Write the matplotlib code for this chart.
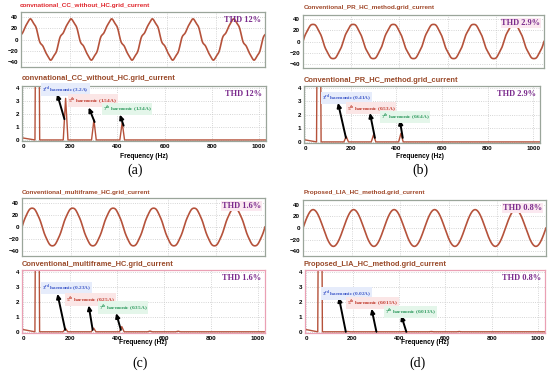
import numpy as np
import matplotlib
matplotlib.use('Agg')
import matplotlib.pyplot as plt

W, H = 550, 374

titles = ['convnational_CC_without_HC.grid_current',
          'Conventional_PR_HC_method.grid_current',
          'Conventional_multiframe_HC.grid_current',
          'Proposed_LIA_HC_method.grid_current']
thd_labels = ['THD 12%', 'THD 2.9%', 'THD 1.6%', 'THD 0.8%']
panel_tags = ['(a)', '(b)', '(c)', '(d)']

grid_freq = 60
fund_amp = [33.0, 31.5, 31.5, 31.5]
harm_order = [3, 5, 7]
harm_freq = [180, 300, 420]
harm_amp = [[3.2, 1.54, 1.34],
            [0.41, 0.53, 0.64],
            [0.23, 0.25, 0.35],
            [0.02, 0.015, 0.013]]
harm_phase = [[2.09, 1.40, 2.27], [0, 0, 0], [0, 0, 0], [0, 0, 0]]
start_phase = [0.2, 0.0, 0.0, 0.0]
harm_text = [['3.2A', '1.54A', '1.34A'],
             ['0.41A', '0.53A', '0.64A'],
             ['0.23A', '0.25A', '0.35A'],
             ['0.02A', '0.015A', '0.013A']]
# small extra spectral bumps (9th, 11th) seen in (c) and (d)
extra_freq = [540, 660]
extra_amp = [[0, 0], [0, 0], [0.05, 0.04], [0.02, 0.02]]

# layout in pixels (x0, y0, x1, y1)
time_box = [(21, 12, 265, 67), (303, 15, 544, 68), (22, 198, 265, 256), (303, 200, 546, 256)]
spec_box = [(22, 86, 266, 141), (304, 86, 540, 143), (22, 270, 265, 333), (305, 270, 545, 333)]
time_title_pos = [(20, 5), (304, 7), (22, 193), (304, 193)]
spec_title_pos = [(22, 78), (304, 80), (22, 265), (304, 265)]
xlabel_pos = [(144, 156), (420, 156), (143, 343), (425, 343)]
tag_pos = [(135, 170), (420, 170), (140, 363), (418, 363)]

label_pos = [[(81, 3.87), (192, 3.02), (338, 2.38)],
             [(74, 3.26), (183, 2.5), (332, 1.85)],
             [(79, 2.95), (183, 2.16), (321, 1.64)],
             [(68, 2.58), (175, 1.94), (338, 1.35)]]
arrow_head = [[(144, 3.54), (278, 2.5), (410, 1.95)],
              [(144, 2.9), (284, 2.15), (415, 1.63)],
              [(146, 2.55), (279, 1.77), (396, 1.25)],
              [(141, 2.32), (282, 1.55), (410, 1.1)]]
arrow_tail = [[(175, 1.6), (303, 1.38), (426, 1.1)],
              [(179, 0.3), (306, 0.3), (428, 0.3)],
              [(179, 0.13), (296, 0.13), (416, 0.13)],
              [(171, 0.0), (303, 0.0), (432, 0.0)]]
harm_colors = ['#3a55c8', '#c0392b', '#2e9a5e']
harm_bg = ['#e6ecfb', '#fbe6e6', '#e4f6ea']
sups = ['rd', 'th', 'th']

line_col = '#b5523b'
thd_col = '#7a2a8c'
grid_col = '#c8c8c8'

plt.rcParams['font.family'] = ['Liberation Sans', 'DejaVu Sans']
plt.rcParams['mathtext.fontset'] = 'custom'
plt.rcParams['mathtext.rm'] = 'Liberation Serif:bold'
plt.rcParams['mathtext.bf'] = 'Liberation Serif:bold'

fig = plt.figure(figsize=(W / 100, H / 100), dpi=100)
fig.patch.set_facecolor('white')


def rect(b):
    x0, y0, x1, y1 = b
    return [x0 / W, 1 - y1 / H, (x1 - x0) / W, (y1 - y0) / H]


def style(ax, edge):
    for s in ax.spines.values():
        s.set_color(edge)
        s.set_linewidth(0.9)
    ax.tick_params(length=0, labelsize=4.5, pad=2)
    for lab in ax.get_xticklabels() + ax.get_yticklabels():
        lab.set_fontweight('bold')
    ax.grid(True, color=grid_col, linestyle=':', linewidth=0.6)
    ax.set_axisbelow(True)


t = np.linspace(0, 0.1, 1500)
for k in range(4):
    # time-domain current
    ax = fig.add_axes(rect(time_box[k]))
    th = 2 * np.pi * grid_freq * t + start_phase[k]
    cur = fund_amp[k] * np.sin(th)
    for n, a, ph in zip(harm_order, harm_amp[k], harm_phase[k]):
        cur = cur + a * np.sin(n * th + ph)
    ax.plot(t, cur, color=line_col, lw=1.2)
    ax.set_xlim(0, 0.1)
    ax.set_ylim(-48, 48)
    ax.set_xticks(np.linspace(0, 0.1, 6))
    ax.set_xticklabels([])
    ax.set_yticks([40, 20, 0, -20, -40])
    style(ax, '#9aa59a')
    ax.text(0.985, 0.93, thd_labels[k], transform=ax.transAxes, ha='right', va='top',
            family='Liberation Serif', fontweight='bold', fontsize=6, color=thd_col,
            bbox=None if k == 0 else dict(boxstyle='square,pad=0.1', fc='#fbe8f0', ec='none'))

    tc = '#e0282e' if k == 0 else '#a0482a'
    x, y = time_title_pos[k]
    fig.text(x / W, 1 - y / H, titles[k], fontsize=4.6, fontweight='bold', color=tc,
             ha='left', va='center')

    # spectrum
    ax = fig.add_axes(rect(spec_box[k]))
    pf = [0, grid_freq - 10, grid_freq, grid_freq + 10]
    pa = [0.15, 0, fund_amp[k], 0]
    peaks = sorted(list(zip(harm_freq, harm_amp[k])) + list(zip(extra_freq, extra_amp[k])))
    for f, a in peaks:
        pf += [f - 10, f, f + 10]
        pa += [0, a, 0]
    pf.append(1050)
    pa.append(0)
    ax.plot(pf, pa, color=line_col, lw=1.0)
    ax.set_xlim(-5, 1030)
    ax.set_ylim(-0.08, 4.15)
    ax.set_xticks([0, 200, 400, 600, 800, 1000])
    ax.set_yticks([0, 1, 2, 3, 4])
    style(ax, '#9aa59a' if k < 2 else '#eaa0b4')
    ax.text(0.985, 0.93, thd_labels[k], transform=ax.transAxes, ha='right', va='top',
            family='Liberation Serif', fontweight='bold', fontsize=6, color=thd_col)

    for j in range(3):
        ax.annotate('', xy=arrow_head[k][j], xytext=arrow_tail[k][j],
                    arrowprops=dict(arrowstyle='-|>,head_length=0.25,head_width=0.12',
                                    color='black', lw=1.4, shrinkA=0, shrinkB=0))
        lx, ly = label_pos[k][j]
        s = r'%d$^{\mathbf{%s}}$ harmonic (%s)' % (harm_order[j], sups[j], harm_text[k][j])
        ax.text(lx, ly, s, fontsize=3.8, color=harm_colors[j], ha='left', va='center',
                family='Liberation Serif', fontweight='bold',
                bbox=dict(boxstyle='square,pad=0.15', fc=harm_bg[j], ec='none'))

    x, y = spec_title_pos[k]
    fig.text(x / W, 1 - y / H, titles[k], fontsize=5.4, fontweight='bold', color='#9a4a2a',
             ha='left', va='center')
    x, y = xlabel_pos[k]
    fig.text(x / W, 1 - y / H, 'Frequency (Hz)', fontsize=4.8, fontweight='bold',
             ha='center', va='center')
    x, y = tag_pos[k]
    fig.text(x / W, 1 - y / H, panel_tags[k], fontsize=10, family='Liberation Serif',
             ha='center', va='center')

fig.savefig('out.png', dpi=100)
